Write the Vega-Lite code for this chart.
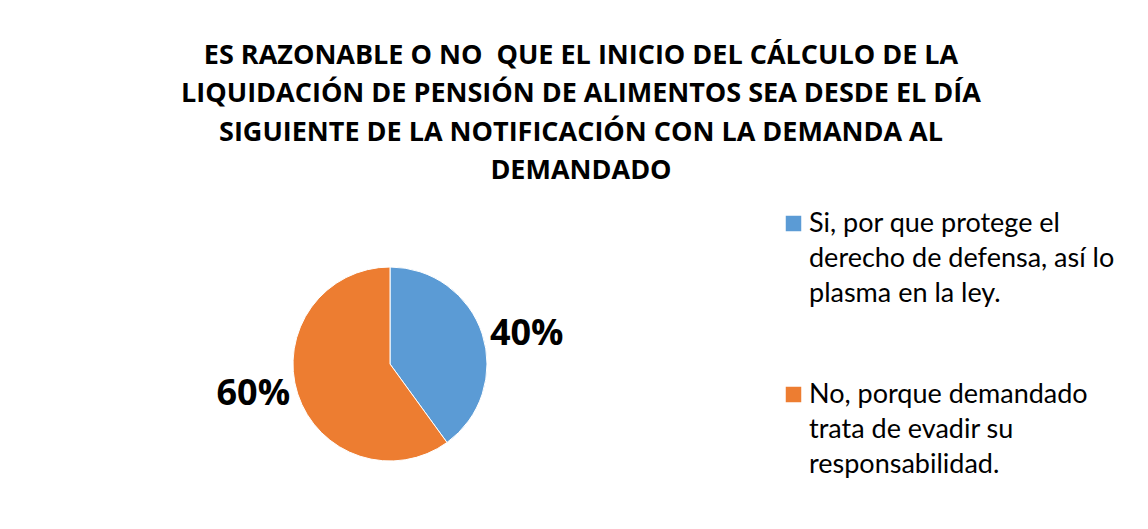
{
  "$schema": "https://vega.github.io/schema/vega-lite/v6.json",
  "width": 780,
  "height": 326,
  "autosize": {"type": "pad"},
  "padding": {"left": 0, "top": 41, "right": 0, "bottom": 0},
  "background": "white",
  "title": {
    "text": [
      "ES RAZONABLE O NO \u00a0QUE EL INICIO DEL CÁLCULO DE LA",
      "LIQUIDACIÓN DE PENSIÓN DE ALIMENTOS SEA DESDE EL DÍA",
      "SIGUIENTE DE LA NOTIFICACIÓN CON LA DEMANDA AL",
      "DEMANDADO"
    ],
    "font": "Open Sans",
    "fontSize": 27,
    "fontWeight": "bold",
    "lineHeight": 38.5,
    "color": "black",
    "anchor": "middle",
    "frame": "group",
    "dx": 191,
    "offset": 16,
    "baseline": "top"
  },
  "data": {
    "values": [
      {"respuesta": "Si, por que protege el derecho de defensa, así lo plasma en la ley.", "porcentaje": 0.4},
      {"respuesta": "No, porque demandado trata de evadir su responsabilidad.", "porcentaje": 0.6}
    ]
  },
  "encoding": {
    "theta": {"field": "porcentaje", "type": "quantitative", "stack": true},
    "order": {"field": "porcentaje", "type": "quantitative", "sort": "ascending"}
  },
  "layer": [
    {
      "mark": {"type": "arc", "outerRadius": 97, "stroke": "white", "strokeWidth": 1},
      "encoding": {
        "color": {
          "field": "respuesta",
          "type": "nominal",
          "scale": {
            "domain": [
              "Si, por que protege el derecho de defensa, así lo plasma en la ley.",
              "No, porque demandado trata de evadir su responsabilidad."
            ],
            "range": ["#5B9BD5", "#ED7D31"]
          },
          "legend": {
            "title": null,
            "orient": "right",
            "offset": -9,
            "padding": 9,
            "symbolType": "square",
            "symbolSize": 240,
            "symbolStrokeWidth": 0,
            "labelFont": "Lato",
            "labelFontSize": 27,
            "labelColor": "black",
            "labelOffset": 2,
            "labelLimit": 400,
            "labelBaseline": "alphabetic",
            "rowPadding": 73,
            "labelExpr": "datum.value == 'Si, por que protege el derecho de defensa, así lo plasma en la ley.' ? ['Si, por que protege el', 'derecho de defensa, así lo', 'plasma en la ley.'] : ['No, porque demandado', 'trata de evadir su', 'responsabilidad.']"
          }
        }
      }
    },
    {
      "mark": {"type": "text", "radius": 140, "font": "Open Sans", "fontSize": 36, "fontWeight": "bold"},
      "encoding": {
        "theta": {"field": "porcentaje", "type": "quantitative", "stack": true, "scale": {"range": [0.096, 6.379]}},
        "text": {"field": "porcentaje", "type": "quantitative", "format": ".0%"},
        "color": {"value": "black"}
      }
    }
  ],
  "resolve": {"scale": {"theta": "independent"}},
  "config": {
    "view": {"stroke": null},
    "style": {"guide-label": {"lineHeight": 35, "dy": 8}}
  }
}
